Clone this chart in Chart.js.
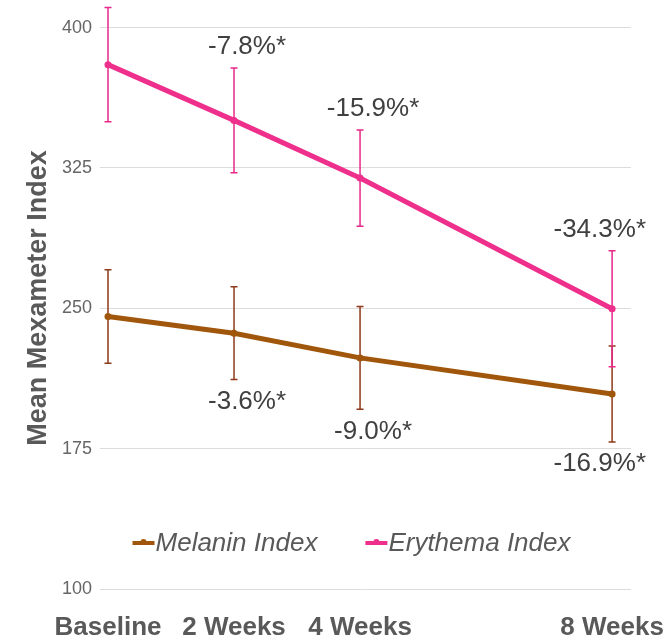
<!DOCTYPE html>
<html>
<head>
<meta charset="utf-8">
<script src="https://cdn.jsdelivr.net/npm/chart.js@4"></script>
<style>
  body { margin: 0; background: #fff; }
  canvas { display: block; }
</style>
</head>
<body>
<canvas id="mexChart" width="664" height="638"></canvas>
<script>
const weeks = [0, 2, 4, 8];
const tickLabels = ['Baseline', '2 Weeks', '4 Weeks', '8 Weeks'];
const yTicks = [100, 175, 250, 325, 400];

const melanin = [245.6, 236.7, 223.5, 204.2];
const melaninErr = [25, 24.8, 27.5, 25.7];
const melaninPct = ['', '-3.6%*', '-9.0%*', '-16.9%*'];

const erythema = [380.2, 350.4, 319.6, 249.8];
const erythemaErr = [30.5, 28, 25.7, 31];
const erythemaPct = ['', '-7.8%*', '-15.9%*', '-34.3%*'];

const FONT = "'Liberation Sans', Arial, sans-serif";
const brown = '#A0560B';
const pink = '#EE2F8C';

// no automatic padding for tick labels, layout.padding decides
function noPad(s) {
    s.paddingLeft = 0; s.paddingRight = 0;
    s.paddingTop = 0; s.paddingBottom = 0;
}

// error bars + change labels + legend inside the plot
const extras = {
    id: 'extras',
    beforeDatasetsDraw(chart) {
        const ctx = chart.ctx;
        const xs = chart.scales.x, ys = chart.scales.y;
        chart.data.datasets.forEach(ds => {
            ctx.save();
            ctx.strokeStyle = ds.errColor;
            ctx.lineWidth = 1.5;
            ds.data.forEach((p, i) => {
                const x = xs.getPixelForValue(p.x);
                const top = ys.getPixelForValue(p.y + ds.err[i]);
                const bot = ys.getPixelForValue(p.y - ds.err[i]);
                ctx.beginPath();
                ctx.moveTo(x, top); ctx.lineTo(x, bot);
                ctx.moveTo(x - 3.5, top); ctx.lineTo(x + 3.5, top);
                ctx.moveTo(x - 3.5, bot); ctx.lineTo(x + 3.5, bot);
                ctx.stroke();
            });
            ctx.restore();
        });
    },
    afterDatasetsDraw(chart) {
        const ctx = chart.ctx;
        const xs = chart.scales.x, ys = chart.scales.y;
        const area = chart.chartArea;
        ctx.save();
        ctx.font = '26px ' + FONT;
        ctx.fillStyle = '#404040';
        ctx.textAlign = 'center';
        ctx.textBaseline = 'middle';
        chart.data.datasets.forEach(ds => {
            ds.data.forEach((p, i) => {
                const txt = ds.pct[i];
                if (!txt) return;
                const w = ctx.measureText(txt).width;
                let x = xs.getPixelForValue(p.x) + 13;
                if (x + w / 2 > 646) x = 646 - w / 2;
                let y;
                if (ds.above) y = ys.getPixelForValue(p.y + ds.err[i]) - 21;
                else y = ys.getPixelForValue(p.y - ds.err[i]) + 22;
                ctx.fillText(txt, x, y);
            });
        });

        // legend
        ctx.font = 'italic 26px ' + FONT;
        ctx.textAlign = 'left';
        ctx.fillStyle = '#595959';
        const lineW = 22, gapIn = 1, gapOut = 48;
        const items = chart.data.datasets.map(ds => ({
            label: ds.label, color: ds.borderColor, w: ctx.measureText(ds.label).width
        }));
        let total = 0;
        items.forEach((it, i) => { total += lineW + gapIn + it.w + (i ? gapOut : 0); });
        let x = (area.left + area.right) / 2 - 14 - total / 2;
        const y = area.bottom - 46;
        items.forEach(it => {
            ctx.strokeStyle = it.color;
            ctx.lineWidth = 4;
            ctx.beginPath();
            ctx.moveTo(x, y); ctx.lineTo(x + lineW, y);
            ctx.stroke();
            ctx.fillStyle = it.color;
            ctx.beginPath();
            ctx.arc(x + lineW / 2, y - 1, 3, 0, Math.PI * 2);
            ctx.fill();
            ctx.fillStyle = '#595959';
            ctx.fillText(it.label, x + lineW + gapIn, y + 1);
            x += lineW + gapIn + it.w + gapOut;
        });
        ctx.restore();
    }
};

new Chart(document.getElementById('mexChart'), {
    type: 'line',
    data: {
        datasets: [{
            label: 'Melanin Index',
            data: weeks.map((w, i) => ({ x: w, y: melanin[i] })),
            err: melaninErr,
            pct: melaninPct,
            above: false,
            borderColor: brown,
            backgroundColor: brown,
            errColor: '#8E3A1A',
            borderWidth: 5,
            pointRadius: 3.5,
            pointBorderWidth: 0,
            tension: 0
        }, {
            label: 'Erythema Index',
            data: weeks.map((w, i) => ({ x: w, y: erythema[i] })),
            err: erythemaErr,
            pct: erythemaPct,
            above: true,
            borderColor: pink,
            backgroundColor: pink,
            errColor: '#E8288A',
            borderWidth: 5,
            pointRadius: 3.5,
            pointBorderWidth: 0,
            tension: 0
        }]
    },
    options: {
        responsive: false,
        animation: false,
        devicePixelRatio: 1,
        layout: { padding: { top: 7, right: 33, left: 0, bottom: 0 } },
        plugins: {
            legend: { display: false },
            tooltip: { enabled: false }
        },
        scales: {
            x: {
                type: 'linear',
                min: -0.127,
                max: 8.3,
                afterBuildTicks: s => { s.ticks = weeks.map(v => ({ value: v })); },
                afterFit: s => { s.height = 49; noPad(s); },
                grid: { display: false },
                border: { display: false },
                ticks: {
                    padding: 15,
                    color: '#595959',
                    font: { family: FONT, size: 26, weight: 'bold' },
                    maxRotation: 0,
                    autoSkip: false,
                    callback: v => tickLabels[weeks.indexOf(v)]
                }
            },
            y: {
                min: 100,
                max: 411,
                afterBuildTicks: s => { s.ticks = yTicks.map(v => ({ value: v })); },
                afterFit: s => { s.width = 100; noPad(s); },
                grid: { color: '#dcdcdc', lineWidth: 1, drawTicks: false },
                border: { display: false },
                ticks: {
                    padding: 8,
                    color: '#666',
                    font: { family: FONT, size: 18 }
                },
                title: {
                    display: true,
                    text: 'Mean Mexameter Index',
                    color: '#595959',
                    font: { family: FONT, size: 27, weight: 'bold' },
                    padding: { top: 22, bottom: 0 }
                }
            }
        }
    },
    plugins: [extras]
});
</script>
</body>
</html>
